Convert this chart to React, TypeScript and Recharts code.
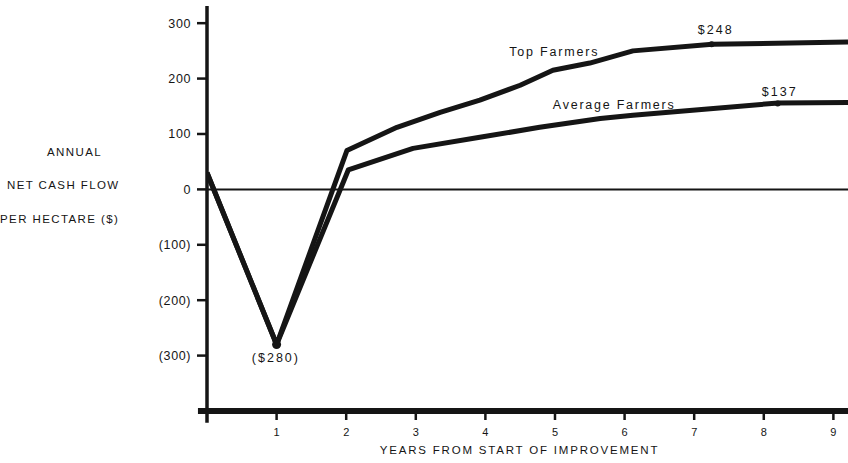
import React from 'react';
import { LineChart, Line, XAxis, YAxis, ReferenceLine, ReferenceDot } from 'recharts';

// Years from start of improvement
const topYears = [0, 1, 2.01, 2.73, 3.35, 3.92, 4.5, 4.97, 5.5, 6.12, 7.26, 9.21];
const topValues = [30, -280, 70, 112, 139, 161, 188, 215, 228, 250, 262, 266];
const avgYears = [0, 1, 2.03, 2.96, 3.92, 4.78, 5.65, 6.12, 8.21, 9.21];
const avgValues = [30, -280, 35, 74, 94, 112, 128, 134, 156, 157];

const xTicks = [1, 2, 3, 4, 5, 6, 7, 8, 9];
const yTicks = [300, 200, 100, 0, -100, -200, -300];
const yLabelLines = ['ANNUAL', 'NET CASH FLOW', 'PER HECTARE ($)'];
const xTitle = 'YEARS FROM START OF IMPROVEMENT';

const topData = topYears.map((x, i) => ({ x, v: topValues[i] }));
const avgData = avgYears.map((x, i) => ({ x, v: avgValues[i] }));

const INK = '#151515';
const FONT = '"Liberation Sans", Arial, Helvetica, sans-serif';

const fmtY = (v: number) => (v < 0 ? `(${-v})` : `${v}`);

const textLabel = (value: string, size = 12.5, spacing = 1.8) => ({
  value,
  position: 'center' as const,
  fill: INK,
  fontSize: size,
  letterSpacing: spacing,
});

export default function App() {
  return (
    <div style={{ position: 'absolute', left: 0, top: 0, width: 848, height: 463, background: '#fff', fontFamily: FONT }}>
      <LineChart width={848} height={463} margin={{ top: 6, right: 0, bottom: 0, left: 0 }}>
        <XAxis
          type="number"
          dataKey="x"
          domain={[0, 9.21]}
          ticks={xTicks}
          allowDataOverflow
          height={52}
          axisLine={false}
          tickSize={9}
          tickMargin={8}
          tickLine={{ stroke: INK, strokeWidth: 2.5 }}
          tick={{ fill: INK, fontSize: 11 }}
          label={{ value: xTitle, position: 'insideBottom', offset: 9, dx: -8, fill: INK, fontSize: 11.5, letterSpacing: 1.8 }}
        />
        <YAxis
          type="number"
          dataKey="v"
          domain={[-400, 331]}
          ticks={yTicks}
          allowDataOverflow
          width={207}
          axisLine={false}
          tickSize={10}
          tickMargin={6}
          tickLine={{ stroke: INK, strokeWidth: 2.5 }}
          tick={{ fill: INK, fontSize: 12.5, letterSpacing: 0.6 }}
          tickFormatter={fmtY}
        />
        <ReferenceLine y={0} stroke={INK} strokeWidth={2} />
        <ReferenceLine
          segment={[{ x: 0, y: -421 }, { x: 0, y: 331 }]}
          stroke={INK}
          strokeWidth={3.5}
          ifOverflow="visible"
        />
        <ReferenceLine
          segment={[{ x: -0.13, y: -400 }, { x: 9.21, y: -400 }]}
          stroke={INK}
          strokeWidth={6}
          ifOverflow="visible"
        />
        <Line
          data={topData}
          dataKey="v"
          type="linear"
          stroke={INK}
          strokeWidth={5}
          strokeLinejoin="round"
          dot={false}
          activeDot={false}
          isAnimationActive={false}
        />
        <Line
          data={avgData}
          dataKey="v"
          type="linear"
          stroke={INK}
          strokeWidth={5}
          strokeLinejoin="round"
          dot={false}
          activeDot={false}
          isAnimationActive={false}
        />
        <ReferenceDot x={1} y={-280} r={4.5} fill={INK} stroke="none" />
        <ReferenceDot x={7.25} y={262} r={3} fill={INK} stroke="none" />
        <ReferenceDot x={8.2} y={155} r={3} fill={INK} stroke="none" />
        <ReferenceDot x={4.99} y={248} r={0} fill="none" stroke="none" label={textLabel('Top Farmers')} />
        <ReferenceDot x={5.85} y={154} r={0} fill="none" stroke="none" label={textLabel('Average Farmers', 12.5, 1.75)} />
        <ReferenceDot x={7.31} y={289} r={0} fill="none" stroke="none" label={textLabel('$248', 12.5, 2.1)} />
        <ReferenceDot x={8.23} y={177} r={0} fill="none" stroke="none" label={textLabel('$137', 12.5, 2.1)} />
        <ReferenceDot x={0.99} y={-304} r={0} fill="none" stroke="none" label={textLabel('($280)', 12.5, 2)} />
        <text x={47} y={156} fill={INK} fontSize={11.5} letterSpacing={1.4}>{yLabelLines[0]}</text>
        <text x={7} y={189} fill={INK} fontSize={11.5} letterSpacing={1.4}>{yLabelLines[1]}</text>
        <text x={0} y={223} fill={INK} fontSize={11.5} letterSpacing={1.4}>{yLabelLines[2]}</text>
      </LineChart>
    </div>
  );
}
